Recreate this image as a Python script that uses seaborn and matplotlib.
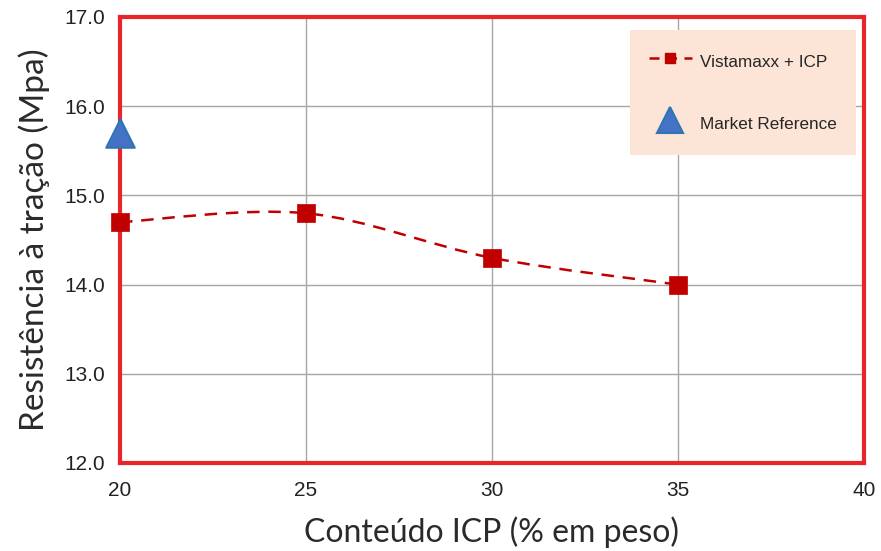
import numpy as np
import matplotlib
matplotlib.use("Agg")
import matplotlib.pyplot as plt
import seaborn as sns
import pandas as pd
from matplotlib.path import Path
from matplotlib.patches import PathPatch
from matplotlib.lines import Line2D

icp_content = [20, 25, 30, 35]
tensile = [14.7, 14.8, 14.3, 14.0]
ref_x = [20]
ref_y = [15.7]
xticks = [20, 25, 30, 35, 40]
yticks = [12.0, 13.0, 14.0, 15.0, 16.0, 17.0]

sns.set_theme(style="white")
plt.rcParams['font.family'] = ['Liberation Sans', 'DejaVu Sans']

fig = plt.figure(figsize=(8.81, 5.51), dpi=100)
ax = fig.add_axes([120/881, 1 - 463/551, (864-120)/881, (463-17)/551])

df = pd.DataFrame({"x": icp_content, "y": tensile})
red = "#C00000"

# smoothed dashed line (Catmull-Rom style Bezier through the data points)
xs = np.array(icp_content, float)
ys = np.array(tensile, float)
verts = [(xs[0], ys[0])]
codes = [Path.MOVETO]
t = 1/6
for i in range(len(xs)-1):
    p0 = np.array([xs[max(i-1, 0)], ys[max(i-1, 0)]])
    p1 = np.array([xs[i], ys[i]])
    p2 = np.array([xs[i+1], ys[i+1]])
    p3 = np.array([xs[min(i+2, len(xs)-1)], ys[min(i+2, len(xs)-1)]])
    c1 = p1 + (p2 - p0) * t
    c2 = p2 - (p3 - p1) * t
    verts += [tuple(c1), tuple(c2), tuple(p2)]
    codes += [Path.CURVE4]*3
patch = PathPatch(Path(verts, codes), facecolor="none", edgecolor=red,
                  lw=1.8, linestyle=(0, (5, 3.5)), zorder=3)
ax.add_patch(patch)

sns.scatterplot(data=df, x="x", y="y", marker="s", s=150, color=red,
                edgecolor=red, linewidth=0.5, ax=ax, zorder=4, clip_on=False)
sns.scatterplot(x=ref_x, y=ref_y, marker="^", s=420, color="#4472C4",
                edgecolor="#2E75B6", linewidth=1.5, ax=ax, zorder=5, clip_on=False)

ax.set_xlim(20, 40)
ax.set_ylim(12, 17)
ax.set_xticks(xticks)
ax.set_yticks(yticks)
ax.set_xticklabels([str(v) for v in xticks])
ax.set_yticklabels([f"{v:.1f}" for v in yticks])
ax.grid(True, color="#A6A6A6", lw=1)
ax.set_axisbelow(True)
for s in ax.spines.values():
    s.set_color("#E8262A")
    s.set_linewidth(3)
    s.set_zorder(2.5)
ax.tick_params(axis="both", labelsize=15, colors="#222222", length=5,
               direction="out", color="#A6A6A6", width=1)
ax.tick_params(axis="x", pad=8)
ax.tick_params(axis="y", pad=6)
ax.set_xlabel("Conteúdo ICP (% em peso)", fontsize=23, family=["Lato", "DejaVu Sans"],
              fontweight="normal", color="#2a2a2a", labelpad=12)
ax.set_ylabel("Resistência à tração (Mpa)", fontsize=24, family=["Lato", "DejaVu Sans"],
              fontweight="normal", color="#2a2a2a", labelpad=10)

handles = [Line2D([0], [0], color=red, lw=1.8, linestyle=(0, (4, 3)), marker="s",
                  markersize=7, markerfacecolor=red, markeredgecolor=red),
           Line2D([0], [0], color="none", marker="^", markersize=19,
                  markerfacecolor="#4472C4", markeredgecolor="#2E75B6", markeredgewidth=1.5)]
leg = ax.legend(handles, ["Vistamaxx + ICP", "Market Reference"], loc="upper right",
                bbox_to_anchor=(856/881, 1 - 30/551), bbox_transform=fig.transFigure,
                frameon=True, fancybox=False, facecolor="#FCE4D6", edgecolor="#FCE4D6",
                framealpha=1, fontsize=12.3, labelspacing=2.15, borderpad=1.1,
                handleheight=1.9, handlelength=2.5, handletextpad=0.5, borderaxespad=0)
leg.get_frame().set_linewidth(0)

fig.savefig("out.png", dpi=100)
